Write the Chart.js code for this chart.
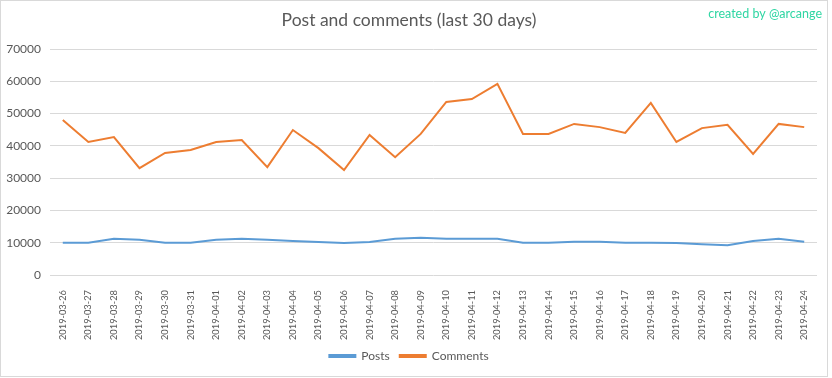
<!DOCTYPE html>
<html>
<head>
<meta charset="utf-8">
<script src="https://cdn.jsdelivr.net/npm/chart.js@4.4.1/dist/chart.umd.min.js"></script>
<style>
    body { margin: 0; background: #fff; }
    #wrap { width: 826px; height: 375px; border: 1px solid #d9d9d9; }
</style>
</head>
<body>
<div id="wrap"><canvas id="chart" width="826" height="375"></canvas></div>
<script>
const days = ['2019-03-26', '2019-03-27', '2019-03-28', '2019-03-29', '2019-03-30', '2019-03-31',
    '2019-04-01', '2019-04-02', '2019-04-03', '2019-04-04', '2019-04-05', '2019-04-06', '2019-04-07',
    '2019-04-08', '2019-04-09', '2019-04-10', '2019-04-11', '2019-04-12', '2019-04-13', '2019-04-14',
    '2019-04-15', '2019-04-16', '2019-04-17', '2019-04-18', '2019-04-19', '2019-04-20', '2019-04-21',
    '2019-04-22', '2019-04-23', '2019-04-24']
const posts = [10000, 10000, 11200, 10900, 10000, 10000, 10900, 11200, 10900, 10500, 10200, 9900,
    10200, 11200, 11500, 11200, 11200, 11200, 10000, 10000, 10300, 10300, 10000, 10000, 9900, 9500,
    9200, 10500, 11200, 10300]
const comments = [48000, 41200, 42700, 33100, 37800, 38700, 41200, 41800, 33400, 44900, 39300, 32500,
    43400, 36500, 43700, 53600, 54500, 59200, 43700, 43700, 46800, 45800, 44000, 53300, 41200, 45500,
    46500, 37500, 46800, 45800]
const yTicks = [0, 10000, 20000, 30000, 40000, 50000, 60000, 70000]

const textColor = '#595959'
const gridColor = '#d9d9d9'

// little signature in the top right corner
const signature = {
    id: 'signature',
    beforeDraw(chart) {
        // x labels get clipped to the scale box, give them some room below it
        chart.scales.x.bottom = chart.scales.x.top + 90
    },
    afterDraw(chart) {
        const ctx = chart.ctx
        ctx.save()
        ctx.font = "12.5px 'Lato'"
        ctx.fillStyle = '#2fd6a3'
        ctx.textAlign = 'right'
        ctx.textBaseline = 'middle'
        ctx.fillText('created by @arcange', 821, 13)
        ctx.restore()
    }
}

const ctx = document.querySelector('#chart').getContext('2d')
const chart = new Chart(ctx, {
    type: 'line',
    data: {
        labels: days,
        datasets: [{
            label: 'Posts',
            data: posts,
            borderColor: '#5b9bd5',
            backgroundColor: '#5b9bd5',
            borderWidth: 2,
            pointRadius: 0,
            tension: 0
        }, {
            label: 'Comments',
            data: comments,
            borderColor: '#ed7d31',
            backgroundColor: '#ed7d31',
            borderWidth: 2,
            pointRadius: 0,
            tension: 0
        }]
    },
    plugins: [signature],
    options: {
        responsive: false,
        animation: false,
        layout: {
            padding: { left: 0, right: 10, top: 0, bottom: 4 }
        },
        plugins: {
            title: {
                display: true,
                text: 'Post and comments (last 30 days)',
                color: textColor,
                font: { family: 'Lato', size: 17.5, weight: '400' },
                padding: { top: 9, bottom: 18 }
            },
            legend: {
                position: 'bottom',
                labels: {
                    color: textColor,
                    font: { family: 'Lato', size: 12 },
                    boxWidth: 26,
                    boxHeight: 2,
                    padding: 10
                }
            },
            tooltip: { enabled: false }
        },
        scales: {
            x: {
                offset: true,
                grid: { display: false },
                border: { display: false },
                ticks: {
                    color: textColor,
                    font: { family: 'Lato', size: 9.3 },
                    minRotation: 90,
                    maxRotation: 90,
                    autoSkip: false,
                    padding: 7
                },
                afterFit: function (scale) { scale.height = 65 }
            },
            y: {
                min: yTicks[0],
                max: yTicks[yTicks.length - 1],
                grid: { color: gridColor, drawTicks: false },
                border: { display: false },
                afterBuildTicks: function (scale) {
                    scale.ticks = yTicks.map(v => ({ value: v }))
                },
                ticks: {
                    color: textColor,
                    font: { family: 'Lato', size: 12 },
                    padding: 9,
                    callback: function (value) { return String(value) }
                },
                afterFit: function (scale) { scale.width = 49 }
            }
        }
    }
})
</script>
</body>
</html>
